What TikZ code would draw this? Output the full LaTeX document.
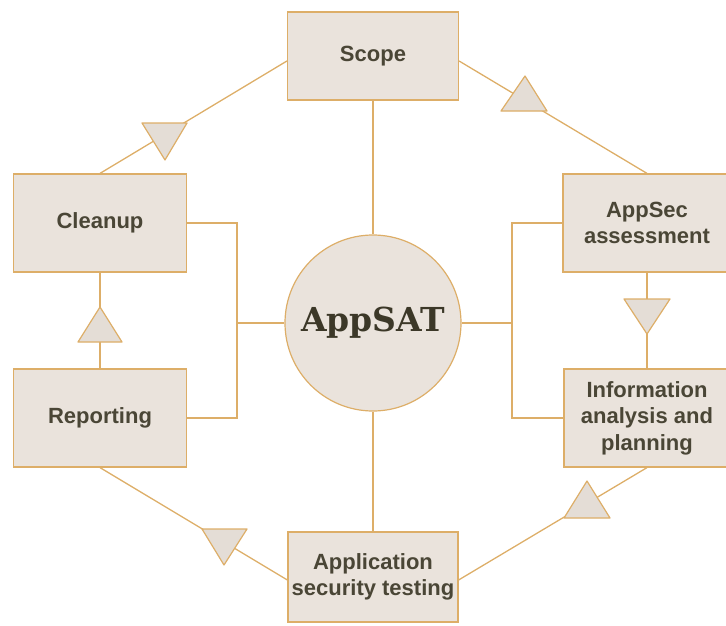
\documentclass[tikz,border=0pt]{standalone}
\usepackage{fontspec}
\usetikzlibrary{backgrounds}
\setmainfont{Liberation Sans}
\newfontfamily\appserif{DejaVu Serif}
\definecolor{edge}{HTML}{DDAE68}
\definecolor{boxfill}{HTML}{EAE3DC}
\definecolor{trifill}{HTML}{E4DDD6}
\definecolor{txt}{HTML}{4A4636}
\definecolor{hubtxt}{HTML}{3C3828}
\begin{document}
\begin{tikzpicture}[x=1pt,y=-1pt,
  stage/.style={draw=edge, line width=1.2pt, fill=boxfill, minimum width=171pt,
    minimum height=98pt, align=center, inner sep=0pt, text=txt,
    font=\bfseries\fontsize{22}{26.5}\selectfont},
  link/.style={draw=edge, line width=1.3pt},
  tri/.style={draw=edge, line width=1.2pt, fill=trifill, line join=round}]
\clip (0,0) rectangle (726,626);

% nodes
\node[stage, minimum height=88pt] (scope) at (373,56) {Scope};
\node[stage, minimum width=173pt] (cleanup) at (100,223) {Cleanup};
\node[stage, minimum width=173pt] (reporting) at (100,418) {Reporting};
\node[stage, minimum width=168pt] (appsec) at (647,223) {AppSec\\assessment};
\node[stage, minimum width=166pt] (info) at (647,418) {Information\\analysis and\\planning};
\node[stage, minimum width=170pt, minimum height=90pt] (apptest) at (373,577) {Application\\security testing};
\node[circle, draw=edge, line width=1.2pt, fill=boxfill, minimum size=176pt, inner sep=0pt,
  text=hubtxt, font=\appserif\bfseries\fontsize{33}{33}\selectfont] (hub) at (373,323) {AppSAT};

\coordinate (lb) at (237,323);
\coordinate (rb) at (512,323);

% connectors
\begin{scope}[on background layer]
\draw[link] (scope) -- (hub);
\draw[link] (hub) -- (apptest);
\draw[link] (cleanup.east) -| (lb) |- (reporting.east);
\draw[link] (lb) -- (hub.west);
\draw[link] (appsec.west) -| (rb) |- (info.west);
\draw[link] (rb) -- (hub.east);
\draw[link] (cleanup) -- (reporting);
\draw[link] (appsec) -- (info);
\draw[link] ([yshift=-5pt]scope.west) -- (cleanup.north);
\draw[link] ([yshift=-5pt]scope.east) -- (appsec.north);
\draw[link] (reporting.south) -- ([yshift=-3pt]apptest.west);
\draw[link] ([yshift=-3pt]apptest.east) -- (info.south);
\end{scope}

% direction triangles
\filldraw[tri] (100,307) -- (78,342) -- (122,342) -- cycle;
\filldraw[tri] (624,299) -- (670,299) -- (647,334) -- cycle;
\filldraw[tri] (142,123) -- (187,123) -- (165,160) -- cycle;
\filldraw[tri] (525,76) -- (501,111) -- (547,111) -- cycle;
\filldraw[tri] (202,529) -- (247,529) -- (224,565) -- cycle;
\filldraw[tri] (587,481) -- (564,518) -- (610,518) -- cycle;
\end{tikzpicture}
\end{document}
